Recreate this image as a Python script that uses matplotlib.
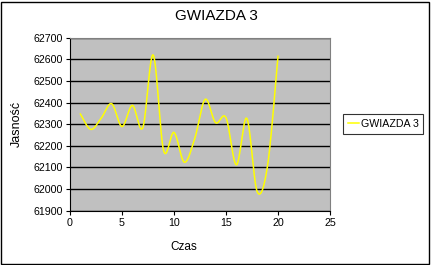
import numpy as np
import matplotlib.pyplot as plt
from matplotlib.patches import Rectangle

plt.rcParams['font.family'] = ['Liberation Sans', 'DejaVu Sans']

#Data
czas = [1, 2, 3, 4, 5, 6, 7, 8, 9, 10, 11, 12, 13, 14, 15, 16, 17, 18, 19, 20]
jasnosc = [62347, 62276, 62328, 62395, 62289, 62387, 62284, 62620, 62178, 62262,
           62124, 62235, 62415, 62307, 62330, 62112, 62327, 61988, 62110, 62614]
yticks = list(range(61900, 62701, 100))
xticks = [0, 5, 10, 15, 20, 25]

#Smoothed line like the spreadsheet one (bezier through every point)
def smooth(x, y, steps=30):
    px = np.array(x, float)
    py = np.array(y, float)
    px = np.concatenate([[px[0]], px, [px[-1]]])
    py = np.concatenate([[py[0]], py, [py[-1]]])
    outx, outy = [], []
    for i in range(1, len(px) - 2):
        p0 = np.array([px[i], py[i]])
        p3 = np.array([px[i + 1], py[i + 1]])
        c1 = p0 + (p3 - np.array([px[i - 1], py[i - 1]])) / 6
        c2 = p3 - (np.array([px[i + 2], py[i + 2]]) - p0) / 6
        t = np.linspace(0, 1, steps)[:, None]
        b = (1 - t)**3 * p0 + 3 * (1 - t)**2 * t * c1 + 3 * (1 - t) * t**2 * c2 + t**3 * p3
        outx.extend(b[:, 0])
        outy.extend(b[:, 1])
    return outx, outy

fig = plt.figure(figsize=(4.32, 2.65), dpi=100)
ax = fig.add_axes([70 / 432, 1 - 210.7 / 265, 260 / 432, 173 / 265])
ax.set_facecolor('#C0C0C0')

sx, sy = smooth(czas, jasnosc)
ax.plot(sx, sy, color='#FFFF00', lw=1.1, label='GWIAZDA 3')

ax.set_xlim(0, 25)
ax.set_ylim(61900, 62700)
ax.set_xticks(xticks)
ax.set_yticks(yticks)
ax.yaxis.grid(True, color='black', lw=1)
ax.set_axisbelow(True)
ax.tick_params(direction='out', length=3, labelsize=7.7, width=0.8, pad=2)

for s in ['top', 'right']:
    ax.spines[s].set_color('#808080')
for s in ['left', 'bottom']:
    ax.spines[s].set_color('black')

fig.suptitle('GWIAZDA 3', y=1 - 16 / 265, fontsize=11, va='center')
ax.set_xlabel('Czas', fontsize=8.5)
ax.xaxis.set_label_coords((184 - 70) / 260, -(247 - 210.7) / 173)
ax.xaxis.label.set_va('center')
ax.set_ylabel('Jasność', fontsize=9, labelpad=6)
ax.yaxis.set_label_coords(-(70 - 17) / 260, 0.5)
ax.yaxis.label.set_va('center')

leg = ax.legend(loc='center left', bbox_to_anchor=(1.05, 0.5), fontsize=7.7,
                frameon=True, fancybox=False, edgecolor='black', handlelength=1.0,
                handletextpad=0.2, borderpad=0.45, borderaxespad=0)
leg.get_frame().set_linewidth(0.8)

fig.patches.append(Rectangle((1 / 432, 1 / 265), 428 / 432, 262 / 265, transform=fig.transFigure,
                             fill=False, edgecolor='black', lw=1))

plt.savefig('out.png', dpi=100)
